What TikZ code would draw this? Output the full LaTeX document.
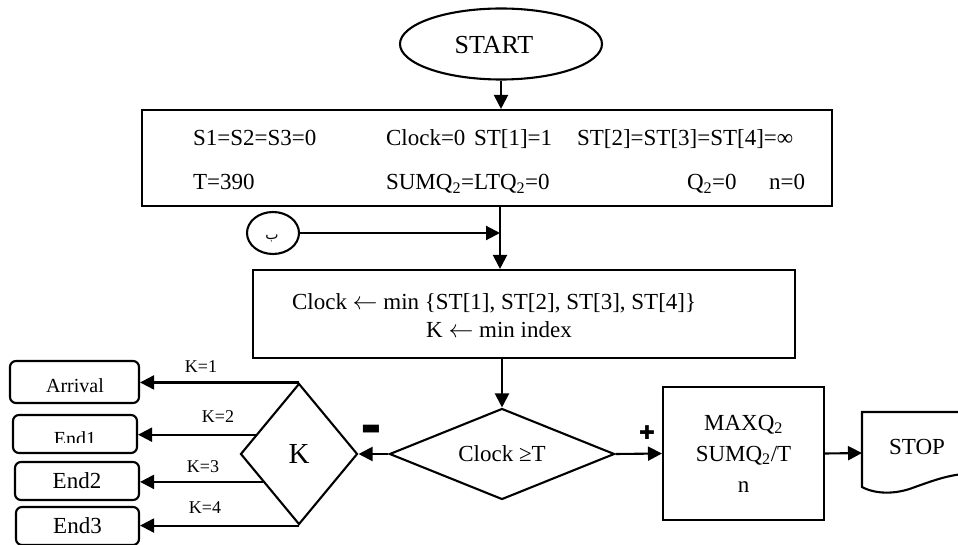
\documentclass[tikz,border=0pt]{standalone}
\usepackage{fontspec}
\setmainfont{Liberation Serif}
\newfontfamily\symfont{DejaVu Sans}
\newfontfamily\arabicfont[Script=Arabic]{DejaVu Sans}
\TeXXeTstate=1
\usetikzlibrary{arrows.meta,shapes.geometric,calc}

\begin{document}
\begin{tikzpicture}[x=1pt,y=-1pt,
  line width=2.1pt,
  font=\fontsize{23}{28}\selectfont,
  arr/.style={-{Triangle[length=14pt,width=14pt]}},
  procbox/.style={draw, rectangle, inner sep=0pt},
  termbox/.style={draw, rectangle, rounded corners=6pt, inner sep=0pt},
  decision/.style={draw, diamond, inner sep=0pt},
  txt/.style={inner sep=0pt},
  lbl/.style={inner sep=0pt, font=\fontsize{18}{20}\selectfont},
]
\useasboundingbox (0,0) rectangle (958,545);

% start terminal
\node[draw, ellipse, minimum width=202pt, minimum height=71pt, inner sep=0pt] (start) at (501,44) {};
\node[txt, font=\fontsize{26}{30}\selectfont] (starttxt) at (494,45) {START};

% initialisation block
\node[procbox, minimum width=690pt, minimum height=96pt] (init) at (487,158) {};
\node[txt, anchor=base west] (i1) at (192,145.5) {S1=S2=S3=0};
\node[txt, anchor=base west] (i2) at (385,145.5) {Clock=0};
\node[txt, anchor=base west] (i3) at (473,145.5) {ST[1]=1};
\node[txt, anchor=base west] (i4) at (576,145.5) {ST[2]=ST[3]=ST[4]=∞};
\node[txt, anchor=base west] (i5) at (192,189.5) {T=390};
\node[txt, anchor=base west] (i6) at (385,189.5) {SUMQ\textsubscript{2}=LTQ\textsubscript{2}=0};
\node[txt, anchor=base west] (i7) at (686,189.5) {Q\textsubscript{2}=0};
\node[txt, anchor=base west] (i8) at (768,189.5) {n=0};

\draw[arr] (start.south) -- (start.south |- init.north);

% loop-back connector
\node[draw, ellipse, minimum width=52pt, minimum height=42pt, inner sep=0pt] (conn) at (273,233) {};
\node[txt, font=\arabicfont\fontsize{14}{14}\selectfont] (conntxt) at (272,238) {\beginR ب\endR};
\coordinate (jn) at (500,233);

% clock advance block
\node[procbox, minimum width=542pt, minimum height=88pt] (proc) at (524,314) {};
\node[txt, anchor=base west] (p1) at (291,309.5) {Clock $\leftarrow$ min \{ST[1], ST[2], ST[3], ST[4]\}};
\node[txt, anchor=base] (p2) at (499,337.5) {K $\leftarrow$ min index};

\draw[arr] (init.south -| jn) -- (proc.north -| jn);
\draw[arr] (conn.east) -- (jn);

% stop test
\node[decision, minimum width=225pt, minimum height=91pt, shape aspect=2.47] (cmp) at (502,454) {Clock ≥T};
\draw[arr] (proc.south -| cmp.north) -- (cmp.north);

% event selector
\node[decision, minimum width=117pt, minimum height=141pt, shape aspect=0.83,
      font=\fontsize{29}{32}\selectfont] (kd) at (299,454) {K};
\draw[arr] (cmp.west) -- (kd.east);
\node[txt, font=\symfont\fontsize{21}{21}\selectfont] (minus) at (371,430) {▬};
\node[txt, font=\symfont\fontsize{19}{19}\selectfont] (plus) at (647,433) {✚};

% event routines
\node[termbox, minimum width=129pt, minimum height=42pt] (arrival) at (74.5,382) {};
\node[txt, anchor=base, font=\fontsize{20}{24}\selectfont] (arrtxt) at (75,392) {Arrival};
\node[termbox, minimum width=124pt, minimum height=38pt] (end1) at (75,434) {};
\begin{scope}
  \clip (13,415) rectangle (137,442);
  \node[txt, anchor=base, font=\fontsize{20}{24}\selectfont] (end1txt) at (75,445) {End1};
\end{scope}
\node[termbox, minimum width=124pt, minimum height=38pt] (end2) at (77,481) {};
\node[txt, anchor=base] (end2txt) at (77,488) {End2};
\node[termbox, minimum width=123pt, minimum height=38pt] (end3) at (77.5,526) {};
\node[txt, anchor=base] (end3txt) at (77.5,533) {End3};

\coordinate (k2) at ($(kd.north)!0.73!(kd.west)$);
\coordinate (k3) at ($(kd.west)!0.39!(kd.south)$);
\draw[arr] (kd.north) -- (arrival.east |- kd.north);
\draw[arr] (k2) -- (end1.east |- k2);
\draw[arr] (k3) -- (end2.east |- k3);
\draw[arr] (kd.south) -- (end3.east |- kd.south);
\node[lbl] (l1) at (201,366.5) {K=1};
\node[lbl] (l2) at (218,417) {K=2};
\node[lbl] (l3) at (203,467) {K=3};
\node[lbl] (l4) at (205,508) {K=4};

% results
\node[procbox, minimum width=161pt, minimum height=133pt, align=center,
      font=\fontsize{23}{31}\selectfont] (res) at (743.5,453.5)
      {MAXQ\textsubscript{2}\\SUMQ\textsubscript{2}/T\\n};
\draw[arr] (cmp.east) -- (res.west);

% stop document
\coordinate (stopin) at (862,453);
\draw (975,412) -- (862,412) -- (862,487)
  .. controls (875,494) and (895,495) .. (915,487)
  .. controls (935,480) and (950,474) .. (975,473);
\node[txt] (stoptxt) at (917,447) {STOP};
\draw[arr] (res.east) -- (stopin);
\end{tikzpicture}
\end{document}
